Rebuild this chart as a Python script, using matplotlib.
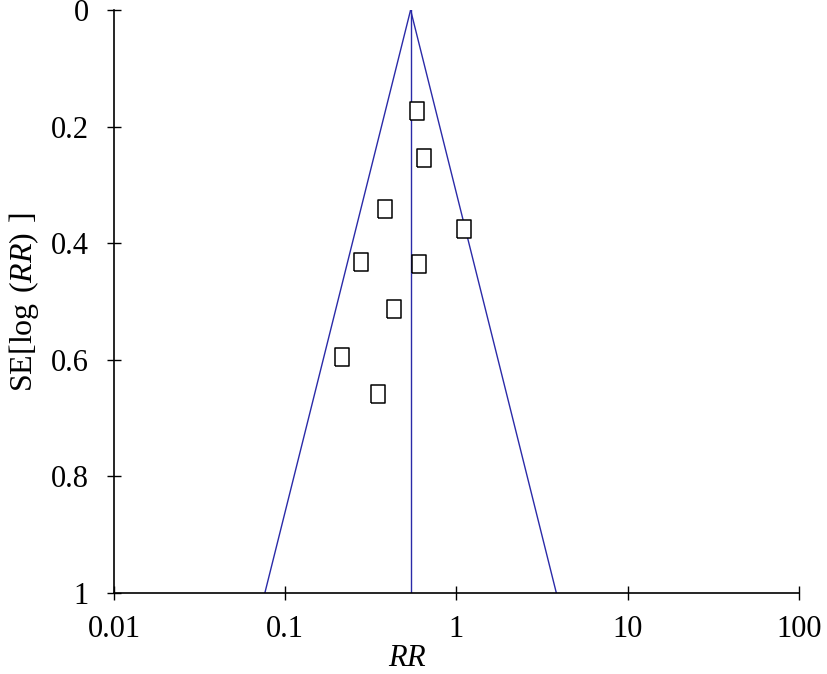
import numpy as np
import matplotlib
matplotlib.use("Agg")
import matplotlib.pyplot as plt

plt.rcParams['font.family'] = ['Liberation Serif', 'DejaVu Serif']
plt.rcParams['mathtext.fontset'] = 'custom'
plt.rcParams['mathtext.rm'] = 'Liberation Serif'
plt.rcParams['mathtext.it'] = 'Liberation Serif:italic'

# study estimates
rr = [0.590, 0.643, 0.384, 1.10, 0.279, 0.601, 0.431, 0.216, 0.348]
se = [0.174, 0.254, 0.342, 0.376, 0.433, 0.436, 0.513, 0.595, 0.658]
summary_rr = 0.54

x_ticks = [0.01, 0.1, 1, 10, 100]
x_tick_labels = ["0.01", "0.1", "1", "10", "100"]
y_ticks = [0, 0.2, 0.4, 0.6, 0.8, 1]
y_tick_labels = ["0", "0.2", "0.4", "0.6", "0.8", "1"]

fig = plt.figure(figsize=(8.27, 6.74), dpi=100)
ax = fig.add_axes([0.1378, 0.1202, 0.8282, 0.8650])

blue = '#2a2aa8'

# pseudo 95% confidence limits
se_line = np.array([0.0, 1.0])
c = np.log10(summary_rr)
half = 1.96 * se_line / np.log(10)
ax.plot(10 ** (c - half), se_line, color=blue, lw=1.0, zorder=2)
ax.plot(10 ** (c + half), se_line, color=blue, lw=1.0, zorder=2)
ax.plot([summary_rr, summary_rr], [0, 1], color=blue, lw=1.0, zorder=2)

# open rectangles, a bit taller than wide
box = [(-0.4, -0.5), (0.4, -0.5), (0.4, 0.5), (-0.4, 0.5), (-0.4, -0.5)]
ax.plot(rr, se, linestyle='none', marker=box, markersize=13,
        markerfacecolor='white', markeredgecolor='black',
        markeredgewidth=1.1, zorder=3)

ax.set_xscale('log')
ax.set_xlim(0.01, 100)
ax.set_ylim(1, 0)
ax.set_xticks(x_ticks)
ax.set_xticklabels(x_tick_labels)
ax.set_yticks(y_ticks)
ax.set_yticklabels(y_tick_labels)
ax.minorticks_off()

for side in ['top', 'right']:
    ax.spines[side].set_visible(False)
for side in ['left', 'bottom']:
    ax.spines[side].set_linewidth(1.2)

ax.tick_params(axis='both', direction='inout', length=10, width=1.0,
               labelsize=22)
ax.tick_params(axis='y', pad=13)
ax.tick_params(axis='x', pad=11)

ax.set_xlabel(r"$\mathit{RR}$", fontsize=22)
ax.xaxis.set_label_coords(0.428, -0.088)
ax.set_ylabel(r"SE[log$\;\,($$\mathit{RR}$$)\;\,$]", fontsize=23)
ax.yaxis.set_label_coords(-0.107, 0.5)

fig.savefig('out.png', dpi=100)
